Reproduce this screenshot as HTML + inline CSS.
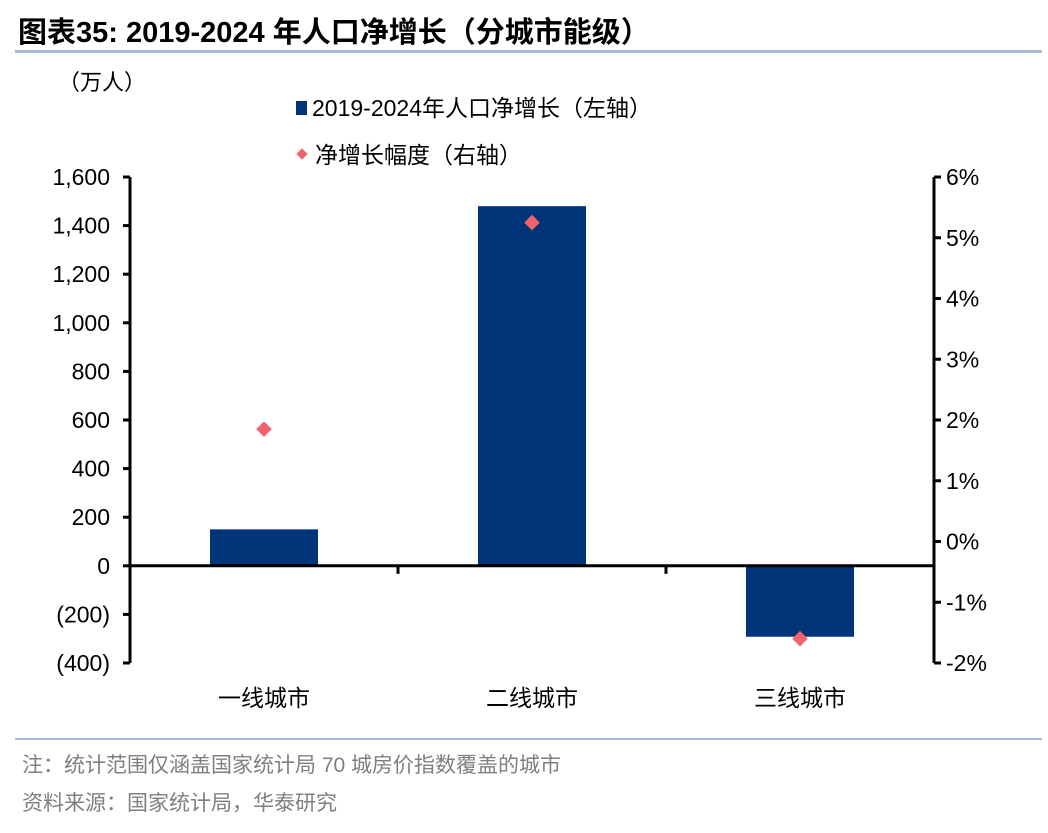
<!DOCTYPE html>
<html><head><meta charset="utf-8"><style>
body{margin:0;background:#fff;width:1048px;height:828px;overflow:hidden;font-family:"Liberation Sans","Noto Sans CJK SC",sans-serif}
</style></head><body>
<svg width="1048" height="828" xmlns="http://www.w3.org/2000/svg" font-family="Liberation Sans, Noto Sans CJK SC, sans-serif">
<text x="18" y="42" font-size="29" font-weight="bold" fill="#000">图表35:  2019-2024 年人口净增长（分城市能级）</text>
<rect x="15" y="50" width="1027" height="3" fill="#a6bcd6"/>
<text x="58" y="90" font-size="22">（万人）</text>
<rect x="296" y="101" width="11" height="14" fill="#003478"/>
<text x="312" y="116" font-size="23">2019-2024年人口净增长（左轴）</text>
<rect x="298" y="150" width="8" height="8" fill="#f2626b" transform="rotate(45 302 154)"/>
<text x="315" y="163" font-size="23">净增长幅度（右轴）</text>
<g id="plot"></g>
<rect x="15" y="738" width="1027" height="2" fill="#a6bcd6"/>
<text x="22" y="772" font-size="21" fill="#7f7f7f">注：统计范围仅涵盖国家统计局 70 城房价指数覆盖的城市</text>
<text x="22" y="810" font-size="21" fill="#7f7f7f">资料来源：国家统计局，华泰研究</text>
</svg>
<script>
const categories=["一线城市","二线城市","三线城市"];
const netGrowth=[150,1480,-292];
const growthRate=[1.85,5.25,-1.6];
const leftTicks=[1600,1400,1200,1000,800,600,400,200,0,-200,-400];
const leftTickLabels=["1,600","1,400","1,200","1,000","800","600","400","200","0","(200)","(400)"];
const rightTicks=[6,5,4,3,2,1,0,-1,-2];
const rightTickLabels=["6%","5%","4%","3%","2%","1%","0%","-1%","-2%"];
const NS="http://www.w3.org/2000/svg";
const g=document.getElementById('plot');
const X0=130,X1=934,TOP=177,BOT=663;
const yL=v=>TOP+(1600-v)/2000*(BOT-TOP);
const yR=v=>TOP+(6-v)/8*(BOT-TOP);
const band=(X1-X0)/categories.length;
const xC=i=>X0+band*(i+0.5);
function mk(t,a){const e=document.createElementNS(NS,t);for(const k in a)e.setAttribute(k,a[k]);g.appendChild(e);return e;}
netGrowth.forEach((v,i)=>{const y0=yL(0),y1=yL(v);
const r=mk('rect',{x:xC(i)-54,y:Math.min(y0,y1),width:108,height:Math.abs(y1-y0),fill:'#003478'});

});
let a=mk('line',{x1:X0,y1:TOP,x2:X0,y2:BOT,stroke:'#000','stroke-width':3});


a=mk('line',{x1:X1,y1:TOP,x2:X1,y2:BOT,stroke:'#000','stroke-width':3});


a=mk('line',{x1:X0,y1:yL(0),x2:X1,y2:yL(0),stroke:'#000','stroke-width':3});


leftTicks.forEach((v,i)=>{const y=yL(v);
mk('line',{x1:X0-7,y1:y,x2:X0,y2:y,stroke:'#000','stroke-width':3});
const t=mk('text',{x:X0-20,y:y+8,'font-size':23,'text-anchor':'end'});t.textContent=leftTickLabels[i];

});
rightTicks.forEach((v,i)=>{const y=yR(v);
mk('line',{x1:X1,y1:y,x2:X1+7,y2:y,stroke:'#000','stroke-width':3});
const t=mk('text',{x:X1+12,y:y+8,'font-size':23});t.textContent=rightTickLabels[i];

});
for(let i=1;i<categories.length;i++){mk('line',{x1:X0+band*i,y1:yL(0),x2:X0+band*i,y2:yL(0)+8,stroke:'#000','stroke-width':3});}
categories.forEach((c,i)=>{const t=mk('text',{x:xC(i),y:706,'font-size':23,'text-anchor':'middle'});t.textContent=c;

});
growthRate.forEach((v,i)=>{const x=xC(i),y=yR(v);
const d=mk('rect',{x:x-5.5,y:y-5.5,width:11,height:11,fill:'#f2626b',transform:`rotate(45 ${x} ${y})`});

});
</script>
</body></html>
